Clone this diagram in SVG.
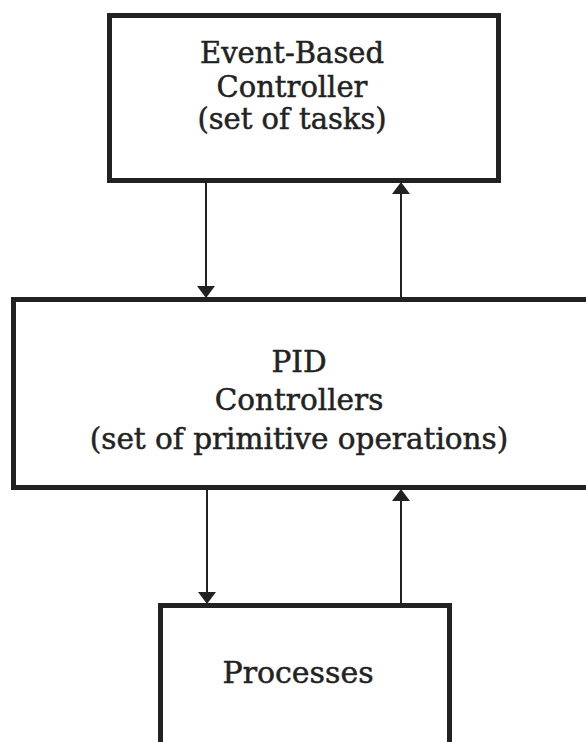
<svg xmlns="http://www.w3.org/2000/svg" width="586" height="742" viewBox="0 0 586 742">
  <style>
    .box { fill: #ffffff; stroke: #222222; stroke-width: 5; }
    .lbl { font-family: "DejaVu Serif", "Liberation Serif", serif; fill: #222222; stroke: #222222; stroke-width: 0.5; text-anchor: middle; }
    .wire { stroke: #222222; stroke-width: 2; fill: none; }
    .head { fill: #222222; }
  </style>
  <rect x="0" y="0" width="586" height="742" fill="#ffffff"/>

  <g id="event-controller">
    <rect class="box" x="109.5" y="15.5" width="389" height="165"/>
    <text class="lbl" x="292" y="63" font-size="29">Event-Based</text>
    <text class="lbl" x="292" y="97" font-size="29">Controller</text>
    <text class="lbl" x="292" y="129" font-size="29">(set of tasks)</text>
  </g>

  <g id="pid-controllers">
    <rect class="box" x="13.5" y="299.5" width="600" height="188"/>
    <text class="lbl" x="299" y="372" font-size="29.5">PID</text>
    <text class="lbl" x="299" y="410" font-size="29.5">Controllers</text>
    <text class="lbl" x="299" y="449" font-size="29.5">(set of primitive operations)</text>
  </g>

  <g id="processes">
    <rect class="box" x="160.5" y="605.5" width="289" height="160"/>
    <text class="lbl" x="298" y="683" font-size="30">Processes</text>
  </g>

  <g id="connectors">
    <!-- controller to PID layer -->
    <line class="wire" x1="206" y1="183" x2="206" y2="288"/>
    <polygon class="head" points="197,286 215,286 206,298"/>
    <!-- PID layer back to controller -->
    <line class="wire" x1="401" y1="297" x2="401" y2="192"/>
    <polygon class="head" points="392,194 410,194 401,182"/>
    <!-- PID layer to processes -->
    <line class="wire" x1="207" y1="490" x2="207" y2="594"/>
    <polygon class="head" points="198,592 216,592 207,604"/>
    <!-- processes back to PID layer -->
    <line class="wire" x1="401" y1="603" x2="401" y2="499"/>
    <polygon class="head" points="392,501 410,501 401,489"/>
  </g>
</svg>
